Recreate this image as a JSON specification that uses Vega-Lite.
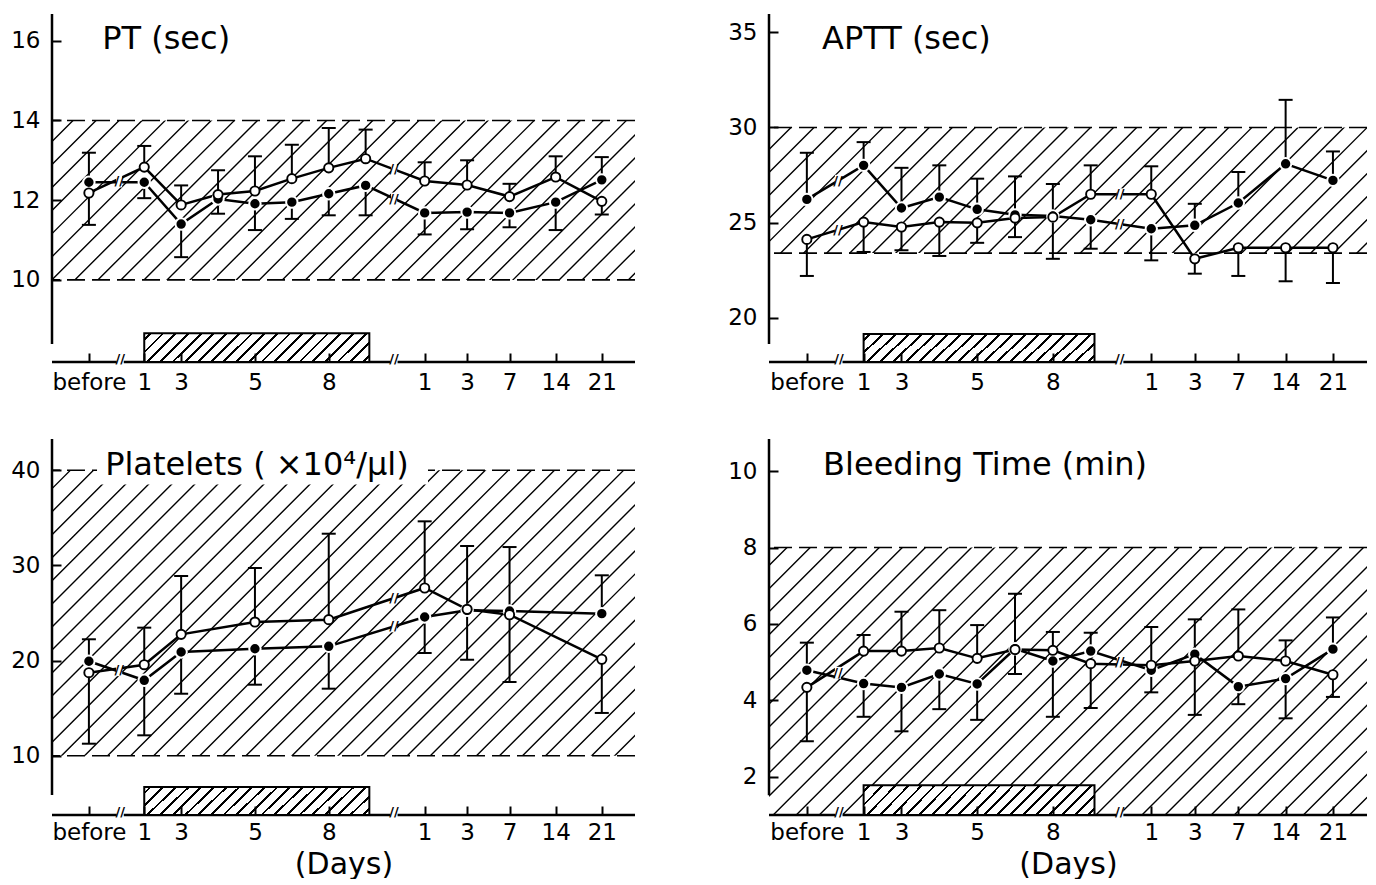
{
"$schema":"https://vega.github.io/schema/vega-lite/v6.json",
"background":"white",
"padding":{"left":10,"top":12,"right":0,"bottom":0},
"params":[{"name":"barHatch","value":{"gradient":"linear","x1":0,"y1":0,"x2":1.1096,"y2":0.1418,"stops":[
{"offset":0,"color":"white"},
{"offset":0.0195,"color":"white"},{"offset":0.0195,"color":"black"},{"offset":0.0305,"color":"black"},{"offset":0.0305,"color":"white"},
{"offset":0.0695,"color":"white"},{"offset":0.0695,"color":"black"},{"offset":0.0805,"color":"black"},{"offset":0.0805,"color":"white"},
{"offset":0.1195,"color":"white"},{"offset":0.1195,"color":"black"},{"offset":0.1305,"color":"black"},{"offset":0.1305,"color":"white"},
{"offset":0.1695,"color":"white"},{"offset":0.1695,"color":"black"},{"offset":0.1805,"color":"black"},{"offset":0.1805,"color":"white"},
{"offset":0.2195,"color":"white"},{"offset":0.2195,"color":"black"},{"offset":0.2305,"color":"black"},{"offset":0.2305,"color":"white"},
{"offset":0.2695,"color":"white"},{"offset":0.2695,"color":"black"},{"offset":0.2805,"color":"black"},{"offset":0.2805,"color":"white"},
{"offset":0.3195,"color":"white"},{"offset":0.3195,"color":"black"},{"offset":0.3305,"color":"black"},{"offset":0.3305,"color":"white"},
{"offset":0.3695,"color":"white"},{"offset":0.3695,"color":"black"},{"offset":0.3805,"color":"black"},{"offset":0.3805,"color":"white"},
{"offset":0.4195,"color":"white"},{"offset":0.4195,"color":"black"},{"offset":0.4305,"color":"black"},{"offset":0.4305,"color":"white"},
{"offset":0.4695,"color":"white"},{"offset":0.4695,"color":"black"},{"offset":0.4805,"color":"black"},{"offset":0.4805,"color":"white"},
{"offset":0.5195,"color":"white"},{"offset":0.5195,"color":"black"},{"offset":0.5305,"color":"black"},{"offset":0.5305,"color":"white"},
{"offset":0.5695,"color":"white"},{"offset":0.5695,"color":"black"},{"offset":0.5805,"color":"black"},{"offset":0.5805,"color":"white"},
{"offset":0.6195,"color":"white"},{"offset":0.6195,"color":"black"},{"offset":0.6305,"color":"black"},{"offset":0.6305,"color":"white"},
{"offset":0.6695,"color":"white"},{"offset":0.6695,"color":"black"},{"offset":0.6805,"color":"black"},{"offset":0.6805,"color":"white"},
{"offset":0.7195,"color":"white"},{"offset":0.7195,"color":"black"},{"offset":0.7305,"color":"black"},{"offset":0.7305,"color":"white"},
{"offset":0.7695,"color":"white"},{"offset":0.7695,"color":"black"},{"offset":0.7805,"color":"black"},{"offset":0.7805,"color":"white"},
{"offset":0.8195,"color":"white"},{"offset":0.8195,"color":"black"},{"offset":0.8305,"color":"black"},{"offset":0.8305,"color":"white"},
{"offset":0.8695,"color":"white"},{"offset":0.8695,"color":"black"},{"offset":0.8805,"color":"black"},{"offset":0.8805,"color":"white"},
{"offset":0.9195,"color":"white"},{"offset":0.9195,"color":"black"},{"offset":0.9305,"color":"black"},{"offset":0.9305,"color":"white"},
{"offset":0.9695,"color":"white"},{"offset":0.9695,"color":"black"},{"offset":0.9805,"color":"black"},{"offset":0.9805,"color":"white"},
{"offset":1,"color":"white"}]}}],
"datasets":{"one":[{}],
"brk":[
{"p":"PT","t":1.82,"v":12.47},{"p":"PT","t":9.27,"v":12.04},{"p":"PT","t":9.27,"v":12.77},
{"p":"APTT","t":1.82,"v":27.2},{"p":"APTT","t":1.82,"v":24.62},{"p":"APTT","t":9.27,"v":24.93},{"p":"APTT","t":9.27,"v":26.49},
{"p":"PLT","t":1.82,"v":19.0},{"p":"PLT","t":9.27,"v":23.6},{"p":"PLT","t":9.27,"v":26.56},
{"p":"BT","t":1.82,"v":4.72},{"p":"BT","t":9.27,"v":5.0}
],
"pts":[
{"p":"PT","s":"A","d":"before","t":1,"m":12.45,"e":13.19},
{"p":"PT","s":"A","d":"1","t":2.5,"m":12.45,"e":12.05},
{"p":"PT","s":"A","d":"3","t":3.5,"m":11.4,"e":10.57},
{"p":"PT","s":"A","d":"4","t":4.5,"m":12.03,"e":11.66},
{"p":"PT","s":"A","d":"5","t":5.5,"m":11.91,"e":11.25},
{"p":"PT","s":"A","d":"6","t":6.5,"m":11.95,"e":11.53},
{"p":"PT","s":"A","d":"8","t":7.5,"m":12.16,"e":11.62},
{"p":"PT","s":"A","d":"9","t":8.5,"m":12.37,"e":11.62},
{"p":"PT","s":"A","d":"post 1","t":10.1,"m":11.68,"e":11.14},
{"p":"PT","s":"A","d":"post 3","t":11.25,"m":11.7,"e":11.27},
{"p":"PT","s":"A","d":"post 7","t":12.4,"m":11.68,"e":11.32},
{"p":"PT","s":"A","d":"post 14","t":13.65,"m":11.95,"e":11.25},
{"p":"PT","s":"A","d":"post 21","t":14.9,"m":12.51,"e":13.08},
{"p":"PT","s":"B","d":"before","t":1,"m":12.18,"e":11.38},
{"p":"PT","s":"B","d":"1","t":2.5,"m":12.83,"e":13.36},
{"p":"PT","s":"B","d":"3","t":3.5,"m":11.88,"e":12.37},
{"p":"PT","s":"B","d":"4","t":4.5,"m":12.14,"e":12.75},
{"p":"PT","s":"B","d":"5","t":5.5,"m":12.23,"e":13.1},
{"p":"PT","s":"B","d":"6","t":6.5,"m":12.54,"e":13.39},
{"p":"PT","s":"B","d":"8","t":7.5,"m":12.81,"e":13.81},
{"p":"PT","s":"B","d":"9","t":8.5,"m":13.04,"e":13.77},
{"p":"PT","s":"B","d":"post 1","t":10.1,"m":12.48,"e":12.95},
{"p":"PT","s":"B","d":"post 3","t":11.25,"m":12.38,"e":13.0},
{"p":"PT","s":"B","d":"post 7","t":12.4,"m":12.09,"e":12.41},
{"p":"PT","s":"B","d":"post 14","t":13.65,"m":12.58,"e":13.1},
{"p":"PT","s":"B","d":"post 21","t":14.9,"m":11.97,"e":11.64},
{"p":"APTT","s":"A","d":"before","t":1,"m":26.22,"e":28.67},
{"p":"APTT","s":"A","d":"1","t":2.5,"m":28.01,"e":29.23},
{"p":"APTT","s":"A","d":"3","t":3.5,"m":25.77,"e":27.88},
{"p":"APTT","s":"A","d":"4","t":4.5,"m":26.34,"e":28.01},
{"p":"APTT","s":"A","d":"5","t":5.5,"m":25.7,"e":27.31},
{"p":"APTT","s":"A","d":"6","t":6.5,"m":25.41,"e":27.43},
{"p":"APTT","s":"A","d":"8","t":7.5,"m":25.35,"e":27.03},
{"p":"APTT","s":"A","d":"9","t":8.5,"m":25.15,"e":23.63},
{"p":"APTT","s":"A","d":"post 1","t":10.1,"m":24.68,"e":23.02},
{"p":"APTT","s":"A","d":"post 3","t":11.25,"m":24.86,"e":25.99},
{"p":"APTT","s":"A","d":"post 7","t":12.4,"m":26.03,"e":27.66},
{"p":"APTT","s":"A","d":"post 14","t":13.65,"m":28.09,"e":31.45},
{"p":"APTT","s":"A","d":"post 21","t":14.9,"m":27.22,"e":28.74},
{"p":"APTT","s":"B","d":"before","t":1,"m":24.12,"e":22.2},
{"p":"APTT","s":"B","d":"1","t":2.5,"m":25.03,"e":23.46},
{"p":"APTT","s":"B","d":"3","t":3.5,"m":24.77,"e":23.55},
{"p":"APTT","s":"B","d":"4","t":4.5,"m":25.03,"e":23.25},
{"p":"APTT","s":"B","d":"5","t":5.5,"m":24.99,"e":23.94},
{"p":"APTT","s":"B","d":"6","t":6.5,"m":25.24,"e":24.24},
{"p":"APTT","s":"B","d":"8","t":7.5,"m":25.29,"e":23.1},
{"p":"APTT","s":"B","d":"9","t":8.5,"m":26.49,"e":28.01},
{"p":"APTT","s":"B","d":"post 1","t":10.1,"m":26.49,"e":27.96},
{"p":"APTT","s":"B","d":"post 3","t":11.25,"m":23.1,"e":22.32},
{"p":"APTT","s":"B","d":"post 7","t":12.4,"m":23.68,"e":22.2},
{"p":"APTT","s":"B","d":"post 14","t":13.65,"m":23.68,"e":21.92},
{"p":"APTT","s":"B","d":"post 21","t":14.9,"m":23.68,"e":21.83},
{"p":"PLT","s":"A","d":"before","t":1,"m":19.93,"e":22.24},
{"p":"PLT","s":"A","d":"1","t":2.5,"m":17.93,"e":12.15},
{"p":"PLT","s":"A","d":"3","t":3.5,"m":20.9,"e":16.52},
{"p":"PLT","s":"A","d":"5","t":5.5,"m":21.25,"e":17.47},
{"p":"PLT","s":"A","d":"8","t":7.5,"m":21.5,"e":17.05},
{"p":"PLT","s":"A","d":"post 1","t":10.1,"m":24.58,"e":20.8},
{"p":"PLT","s":"A","d":"post 3","t":11.25,"m":25.28,"e":20.09},
{"p":"PLT","s":"A","d":"post 7","t":12.4,"m":25.21,"e":31.93},
{"p":"PLT","s":"A","d":"post 21","t":14.9,"m":24.93,"e":28.96},
{"p":"PLT","s":"B","d":"before","t":1,"m":18.73,"e":11.27},
{"p":"PLT","s":"B","d":"1","t":2.5,"m":19.57,"e":23.46},
{"p":"PLT","s":"B","d":"3","t":3.5,"m":22.76,"e":28.89},
{"p":"PLT","s":"B","d":"5","t":5.5,"m":24.05,"e":29.73},
{"p":"PLT","s":"B","d":"8","t":7.5,"m":24.3,"e":33.33},
{"p":"PLT","s":"B","d":"post 1","t":10.1,"m":27.63,"e":34.63},
{"p":"PLT","s":"B","d":"post 3","t":11.25,"m":25.39,"e":32.04},
{"p":"PLT","s":"B","d":"post 7","t":12.4,"m":24.82,"e":17.75},
{"p":"PLT","s":"B","d":"post 21","t":14.9,"m":20.14,"e":14.5},
{"p":"BT","s":"A","d":"before","t":1,"m":4.79,"e":5.51},
{"p":"BT","s":"A","d":"1","t":2.5,"m":4.44,"e":3.57},
{"p":"BT","s":"A","d":"3","t":3.5,"m":4.34,"e":3.19},
{"p":"BT","s":"A","d":"4","t":4.5,"m":4.69,"e":3.77},
{"p":"BT","s":"A","d":"5","t":5.5,"m":4.43,"e":3.49},
{"p":"BT","s":"A","d":"6","t":6.5,"m":5.35,"e":6.79},
{"p":"BT","s":"A","d":"8","t":7.5,"m":5.03,"e":3.57},
{"p":"BT","s":"A","d":"9","t":8.5,"m":5.29,"e":5.77},
{"p":"BT","s":"A","d":"post 1","t":10.1,"m":4.79,"e":4.21},
{"p":"BT","s":"A","d":"post 3","t":11.25,"m":5.21,"e":6.12},
{"p":"BT","s":"A","d":"post 7","t":12.4,"m":4.36,"e":3.9},
{"p":"BT","s":"A","d":"post 14","t":13.65,"m":4.57,"e":3.53},
{"p":"BT","s":"A","d":"post 21","t":14.9,"m":5.34,"e":6.17},
{"p":"BT","s":"B","d":"before","t":1,"m":4.34,"e":2.93},
{"p":"BT","s":"B","d":"1","t":2.5,"m":5.29,"e":5.71},
{"p":"BT","s":"B","d":"3","t":3.5,"m":5.29,"e":6.32},
{"p":"BT","s":"B","d":"4","t":4.5,"m":5.37,"e":6.36},
{"p":"BT","s":"B","d":"5","t":5.5,"m":5.1,"e":5.97},
{"p":"BT","s":"B","d":"6","t":6.5,"m":5.33,"e":4.69},
{"p":"BT","s":"B","d":"8","t":7.5,"m":5.31,"e":5.79},
{"p":"BT","s":"B","d":"9","t":8.5,"m":4.96,"e":3.8},
{"p":"BT","s":"B","d":"post 1","t":10.1,"m":4.92,"e":5.92},
{"p":"BT","s":"B","d":"post 3","t":11.25,"m":5.03,"e":3.62},
{"p":"BT","s":"B","d":"post 7","t":12.4,"m":5.16,"e":6.38},
{"p":"BT","s":"B","d":"post 14","t":13.65,"m":5.03,"e":5.57},
{"p":"BT","s":"B","d":"post 21","t":14.9,"m":4.67,"e":4.09}
]},
"config":{
"view":{"stroke":null},
"axis":{"grid":false,"labelFont":"DejaVu Sans","labelColor":"black","titleFont":"DejaVu Sans","titleColor":"black","titleFontWeight":"normal"}
},
"columns":2,"spacing":{"row":77,"column":134},"bounds":"flush",
"concat":[
{"width":583,"height":348,"layer":[
{"data":{"name":"one"},"mark":{"type":"rule","clip":true,"strokeWidth":1500,"strokeDash":[1.4,14.9],"strokeCap":"butt","color":"black"},
 "encoding":{"x":{"datum":-2.94,"type":"quantitative","scale":{"domain":[0,15.8],"nice":false,"zero":false},"axis":{"title":null,"domain":false,"ticks":true,"tickSize":-9,"tickWidth":2,"tickColor":"black","labelFontSize":23,"labelPadding":18,"labelOverlap":false,"labelFlush":false,"labelBound":false,"zindex":1,"values":[1,2.5,3.5,5.5,7.5,10.1,11.25,12.4,13.65,14.9],"labelExpr":"datum.value==1?'before':(datum.value==2.5||datum.value==10.1)?'1':(datum.value==3.5||datum.value==11.25)?'3':datum.value==5.5?'5':datum.value==7.5?'8':datum.value==12.4?'7':datum.value==13.65?'14':'21'"}},"x2":{"datum":18.74},
 "y":{"datum":22.34,"type":"quantitative","scale":{"domain":[7.94,16.67],"nice":false,"zero":false},"axis":{"title":null,"domain":false,"ticks":true,"tickSize":-9,"tickWidth":2,"tickColor":"black","labelFontSize":23,"labelPadding":21,"zindex":1,"values":[10,12,14,16]}},"y2":{"datum":2.26}}},
{"data":{"name":"one"},"mark":{"type":"rect","color":"white"},"encoding":{"x":{"datum":0,"type":"quantitative"},"x2":{"datum":15.8},"y":{"datum":14,"type":"quantitative"},"y2":{"datum":16.67}}},
{"data":{"name":"one"},"mark":{"type":"rect","color":"white"},"encoding":{"x":{"datum":0,"type":"quantitative"},"x2":{"datum":15.8},"y":{"datum":7.94,"type":"quantitative"},"y2":{"datum":10}}},
{"data":{"values":[{"ref":14},{"ref":10}]},"mark":{"type":"rule","strokeDash":[18,7],"strokeWidth":1.6,"color":"black"},"encoding":{"y":{"field":"ref","type":"quantitative"}}},
{"data":{"name":"one"},"mark":{"type":"rule","strokeWidth":2.5,"color":"black"},"encoding":{"y":{"datum":7.94,"type":"quantitative"}}},
{"data":{"name":"one"},"mark":{"type":"rule","strokeWidth":2.5,"color":"black"},"encoding":{"x":{"datum":0,"type":"quantitative"},"y":{"datum":8.39,"type":"quantitative"},"y2":{"datum":16.67}}},
{"data":{"name":"one"},"mark":{"type":"rect","fill":{"expr":"barHatch"},"stroke":"black","strokeWidth":2},"encoding":{"x":{"datum":2.5,"type":"quantitative"},"x2":{"datum":8.6},"y":{"datum":7.94,"type":"quantitative"},"y2":{"datum":8.66}}},
{"data":{"values":[{"b":1.85},{"b":9.27}]},"mark":{"type":"tick","orient":"vertical","color":"white","size":12,"thickness":7,"opacity":1},"encoding":{"x":{"field":"b","type":"quantitative"},"y":{"datum":7.94,"type":"quantitative"}}},
{"data":{"values":[{"b":1.85},{"b":9.27}]},"mark":{"type":"text","text":"//","font":"DejaVu Sans","fontSize":13,"fontWeight":"bold","color":"black","baseline":"middle","align":"center","dy":-3},"encoding":{"x":{"field":"b","type":"quantitative"},"y":{"datum":7.94,"type":"quantitative"}}},
{"data":{"name":"pts"},"transform":[{"filter":"datum.p=='PT'"}],"mark":{"type":"line","color":"black","strokeWidth":2.5},"encoding":{"x":{"field":"t","type":"quantitative"},"y":{"field":"m","type":"quantitative"},"detail":{"field":"s"}}},
{"data":{"name":"brk"},"transform":[{"filter":"datum.p=='PT'"}],"mark":{"type":"tick","orient":"vertical","color":"white","size":12,"thickness":6,"opacity":1},"encoding":{"x":{"field":"t","type":"quantitative"},"y":{"field":"v","type":"quantitative"}}},
{"data":{"name":"brk"},"transform":[{"filter":"datum.p=='PT'"}],"mark":{"type":"text","text":"//","font":"DejaVu Sans","fontSize":13,"fontWeight":"bold","color":"black","baseline":"middle","align":"center"},"encoding":{"x":{"field":"t","type":"quantitative"},"y":{"field":"v","type":"quantitative"}}},
{"data":{"name":"pts"},"transform":[{"filter":"datum.p=='PT'"}],"mark":{"type":"rule","color":"black","strokeWidth":2},"encoding":{"x":{"field":"t","type":"quantitative"},"y":{"field":"m","type":"quantitative"},"y2":{"field":"e"}}},
{"data":{"name":"pts"},"transform":[{"filter":"datum.p=='PT'"}],"mark":{"type":"tick","orient":"horizontal","color":"black","size":14,"thickness":2,"opacity":1},"encoding":{"x":{"field":"t","type":"quantitative"},"y":{"field":"e","type":"quantitative"}}},
{"data":{"name":"pts"},"transform":[{"filter":"datum.p=='PT' && datum.s=='A'"}],"mark":{"type":"point","shape":"circle","filled":true,"fill":"black","stroke":"white","strokeWidth":2,"size":130,"opacity":1},"encoding":{"x":{"field":"t","type":"quantitative"},"y":{"field":"m","type":"quantitative"}}},
{"data":{"name":"pts"},"transform":[{"filter":"datum.p=='PT' && datum.s=='B'"}],"mark":{"type":"point","shape":"circle","filled":true,"fill":"white","stroke":"black","strokeWidth":1.9,"size":85,"opacity":1},"encoding":{"x":{"field":"t","type":"quantitative"},"y":{"field":"m","type":"quantitative"}}},
{"data":{"name":"one"},"mark":{"type":"text","text":"PT (sec)","font":"DejaVu Sans","fontSize":32,"align":"left","baseline":"alphabetic","color":"black"},"encoding":{"x":{"datum":1.36,"type":"quantitative"},"y":{"datum":15.79,"type":"quantitative"}}}
]},
{"width":598,"height":348,"layer":[
{"data":{"name":"one"},"mark":{"type":"rule","clip":true,"strokeWidth":1500,"strokeDash":[1.4,14.9],"strokeCap":"butt","color":"black"},
 "encoding":{"x":{"datum":-2.67,"type":"quantitative","scale":{"domain":[0,15.8],"nice":false,"zero":false},"axis":{"title":null,"domain":false,"ticks":true,"tickSize":-9,"tickWidth":2,"tickColor":"black","labelFontSize":23,"labelPadding":18,"labelOverlap":false,"labelFlush":false,"labelBound":false,"zindex":1,"values":[1,2.5,3.5,5.5,7.5,10.1,11.25,12.4,13.65,14.9],"labelExpr":"datum.value==1?'before':(datum.value==2.5||datum.value==10.1)?'1':(datum.value==3.5||datum.value==11.25)?'3':datum.value==5.5?'5':datum.value==7.5?'8':datum.value==12.4?'7':datum.value==13.65?'14':'21'"}},"x2":{"datum":18.47},
 "y":{"datum":47.81,"type":"quantitative","scale":{"domain":[17.68,35.96],"nice":false,"zero":false},"axis":{"title":null,"domain":false,"ticks":true,"tickSize":-9,"tickWidth":2,"tickColor":"black","labelFontSize":23,"labelPadding":21,"zindex":1,"values":[20,25,30,35]}},"y2":{"datum":5.79}}},
{"data":{"name":"one"},"mark":{"type":"rect","color":"white"},"encoding":{"x":{"datum":0,"type":"quantitative"},"x2":{"datum":15.8},"y":{"datum":30,"type":"quantitative"},"y2":{"datum":35.96}}},
{"data":{"name":"one"},"mark":{"type":"rect","color":"white"},"encoding":{"x":{"datum":0,"type":"quantitative"},"x2":{"datum":15.8},"y":{"datum":17.68,"type":"quantitative"},"y2":{"datum":23.4}}},
{"data":{"values":[{"ref":30},{"ref":23.4}]},"mark":{"type":"rule","strokeDash":[18,7],"strokeWidth":1.6,"color":"black"},"encoding":{"y":{"field":"ref","type":"quantitative"}}},
{"data":{"name":"one"},"mark":{"type":"rule","strokeWidth":2.5,"color":"black"},"encoding":{"y":{"datum":17.68,"type":"quantitative"}}},
{"data":{"name":"one"},"mark":{"type":"rule","strokeWidth":2.5,"color":"black"},"encoding":{"x":{"datum":0,"type":"quantitative"},"y":{"datum":18.62,"type":"quantitative"},"y2":{"datum":35.96}}},
{"data":{"name":"one"},"mark":{"type":"rect","fill":{"expr":"barHatch"},"stroke":"black","strokeWidth":2},"encoding":{"x":{"datum":2.5,"type":"quantitative"},"x2":{"datum":8.6},"y":{"datum":17.68,"type":"quantitative"},"y2":{"datum":19.15}}},
{"data":{"values":[{"b":1.85},{"b":9.27}]},"mark":{"type":"tick","orient":"vertical","color":"white","size":12,"thickness":7,"opacity":1},"encoding":{"x":{"field":"b","type":"quantitative"},"y":{"datum":17.68,"type":"quantitative"}}},
{"data":{"values":[{"b":1.85},{"b":9.27}]},"mark":{"type":"text","text":"//","font":"DejaVu Sans","fontSize":13,"fontWeight":"bold","color":"black","baseline":"middle","align":"center","dy":-3},"encoding":{"x":{"field":"b","type":"quantitative"},"y":{"datum":17.68,"type":"quantitative"}}},
{"data":{"name":"pts"},"transform":[{"filter":"datum.p=='APTT'"}],"mark":{"type":"line","color":"black","strokeWidth":2.5},"encoding":{"x":{"field":"t","type":"quantitative"},"y":{"field":"m","type":"quantitative"},"detail":{"field":"s"}}},
{"data":{"name":"brk"},"transform":[{"filter":"datum.p=='APTT'"}],"mark":{"type":"tick","orient":"vertical","color":"white","size":12,"thickness":6,"opacity":1},"encoding":{"x":{"field":"t","type":"quantitative"},"y":{"field":"v","type":"quantitative"}}},
{"data":{"name":"brk"},"transform":[{"filter":"datum.p=='APTT'"}],"mark":{"type":"text","text":"//","font":"DejaVu Sans","fontSize":13,"fontWeight":"bold","color":"black","baseline":"middle","align":"center"},"encoding":{"x":{"field":"t","type":"quantitative"},"y":{"field":"v","type":"quantitative"}}},
{"data":{"name":"pts"},"transform":[{"filter":"datum.p=='APTT'"}],"mark":{"type":"rule","color":"black","strokeWidth":2},"encoding":{"x":{"field":"t","type":"quantitative"},"y":{"field":"m","type":"quantitative"},"y2":{"field":"e"}}},
{"data":{"name":"pts"},"transform":[{"filter":"datum.p=='APTT'"}],"mark":{"type":"tick","orient":"horizontal","color":"black","size":14,"thickness":2,"opacity":1},"encoding":{"x":{"field":"t","type":"quantitative"},"y":{"field":"e","type":"quantitative"}}},
{"data":{"name":"pts"},"transform":[{"filter":"datum.p=='APTT' && datum.s=='A'"}],"mark":{"type":"point","shape":"circle","filled":true,"fill":"black","stroke":"white","strokeWidth":2,"size":130,"opacity":1},"encoding":{"x":{"field":"t","type":"quantitative"},"y":{"field":"m","type":"quantitative"}}},
{"data":{"name":"pts"},"transform":[{"filter":"datum.p=='APTT' && datum.s=='B'"}],"mark":{"type":"point","shape":"circle","filled":true,"fill":"white","stroke":"black","strokeWidth":1.9,"size":85,"opacity":1},"encoding":{"x":{"field":"t","type":"quantitative"},"y":{"field":"m","type":"quantitative"}}},
{"data":{"name":"one"},"mark":{"type":"text","text":"APTT (sec)","font":"DejaVu Sans","fontSize":32,"align":"left","baseline":"alphabetic","color":"black"},"encoding":{"x":{"datum":1.4,"type":"quantitative"},"y":{"datum":34.12,"type":"quantitative"}}}
]},
{"width":583,"height":376,"layer":[
{"data":{"name":"one"},"mark":{"type":"rule","clip":true,"strokeWidth":1500,"strokeDash":[1.4,14.9],"strokeCap":"butt","color":"black"},
 "encoding":{"x":{"datum":-2.94,"type":"quantitative","scale":{"domain":[0,15.8],"nice":false,"zero":false},"axis":{"title":"(Days)","titleFontSize":30,"titlePadding":5,"domain":false,"ticks":true,"tickSize":-9,"tickWidth":2,"tickColor":"black","labelFontSize":23,"labelPadding":15,"labelOverlap":false,"labelFlush":false,"labelBound":false,"zindex":1,"values":[1,2.5,3.5,5.5,7.5,10.1,11.25,12.4,13.65,14.9],"labelExpr":"datum.value==1?'before':(datum.value==2.5||datum.value==10.1)?'1':(datum.value==3.5||datum.value==11.25)?'3':datum.value==5.5?'5':datum.value==7.5?'8':datum.value==12.4?'7':datum.value==13.65?'14':'21'"}},"x2":{"datum":18.74},
 "y":{"datum":65.52,"type":"quantitative","scale":{"domain":[3.78,43.28],"nice":false,"zero":false},"axis":{"title":null,"domain":false,"ticks":true,"tickSize":-9,"tickWidth":2,"tickColor":"black","labelFontSize":23,"labelPadding":21,"zindex":1,"values":[10,20,30,40]}},"y2":{"datum":-18.52}}},
{"data":{"name":"one"},"mark":{"type":"rect","color":"white"},"encoding":{"x":{"datum":0,"type":"quantitative"},"x2":{"datum":15.8},"y":{"datum":40,"type":"quantitative"},"y2":{"datum":43.28}}},
{"data":{"name":"one"},"mark":{"type":"rect","color":"white"},"encoding":{"x":{"datum":0,"type":"quantitative"},"x2":{"datum":15.8},"y":{"datum":3.78,"type":"quantitative"},"y2":{"datum":10}}},
{"data":{"values":[{"ref":40},{"ref":10}]},"mark":{"type":"rule","strokeDash":[18,7],"strokeWidth":1.6,"color":"black"},"encoding":{"y":{"field":"ref","type":"quantitative"}}},
{"data":{"name":"one"},"mark":{"type":"rect","color":"white"},"encoding":{"x":{"datum":1.22,"type":"quantitative"},"x2":{"datum":10.19},"y":{"datum":38.5,"type":"quantitative"},"y2":{"datum":41.6}}},
{"data":{"name":"one"},"mark":{"type":"rule","strokeWidth":2.5,"color":"black"},"encoding":{"y":{"datum":3.78,"type":"quantitative"}}},
{"data":{"name":"one"},"mark":{"type":"rule","strokeWidth":2.5,"color":"black"},"encoding":{"x":{"datum":0,"type":"quantitative"},"y":{"datum":5.88,"type":"quantitative"},"y2":{"datum":43.28}}},
{"data":{"name":"one"},"mark":{"type":"rect","fill":{"expr":"barHatch"},"stroke":"black","strokeWidth":2},"encoding":{"x":{"datum":2.5,"type":"quantitative"},"x2":{"datum":8.6},"y":{"datum":3.78,"type":"quantitative"},"y2":{"datum":6.72}}},
{"data":{"values":[{"b":1.85},{"b":9.27}]},"mark":{"type":"tick","orient":"vertical","color":"white","size":12,"thickness":7,"opacity":1},"encoding":{"x":{"field":"b","type":"quantitative"},"y":{"datum":3.78,"type":"quantitative"}}},
{"data":{"values":[{"b":1.85},{"b":9.27}]},"mark":{"type":"text","text":"//","font":"DejaVu Sans","fontSize":13,"fontWeight":"bold","color":"black","baseline":"middle","align":"center","dy":-3},"encoding":{"x":{"field":"b","type":"quantitative"},"y":{"datum":3.78,"type":"quantitative"}}},
{"data":{"name":"pts"},"transform":[{"filter":"datum.p=='PLT'"}],"mark":{"type":"line","color":"black","strokeWidth":2.5},"encoding":{"x":{"field":"t","type":"quantitative"},"y":{"field":"m","type":"quantitative"},"detail":{"field":"s"}}},
{"data":{"name":"brk"},"transform":[{"filter":"datum.p=='PLT'"}],"mark":{"type":"tick","orient":"vertical","color":"white","size":12,"thickness":6,"opacity":1},"encoding":{"x":{"field":"t","type":"quantitative"},"y":{"field":"v","type":"quantitative"}}},
{"data":{"name":"brk"},"transform":[{"filter":"datum.p=='PLT'"}],"mark":{"type":"text","text":"//","font":"DejaVu Sans","fontSize":13,"fontWeight":"bold","color":"black","baseline":"middle","align":"center"},"encoding":{"x":{"field":"t","type":"quantitative"},"y":{"field":"v","type":"quantitative"}}},
{"data":{"name":"pts"},"transform":[{"filter":"datum.p=='PLT'"}],"mark":{"type":"rule","color":"black","strokeWidth":2},"encoding":{"x":{"field":"t","type":"quantitative"},"y":{"field":"m","type":"quantitative"},"y2":{"field":"e"}}},
{"data":{"name":"pts"},"transform":[{"filter":"datum.p=='PLT'"}],"mark":{"type":"tick","orient":"horizontal","color":"black","size":14,"thickness":2,"opacity":1},"encoding":{"x":{"field":"t","type":"quantitative"},"y":{"field":"e","type":"quantitative"}}},
{"data":{"name":"pts"},"transform":[{"filter":"datum.p=='PLT' && datum.s=='A'"}],"mark":{"type":"point","shape":"circle","filled":true,"fill":"black","stroke":"white","strokeWidth":2,"size":130,"opacity":1},"encoding":{"x":{"field":"t","type":"quantitative"},"y":{"field":"m","type":"quantitative"}}},
{"data":{"name":"pts"},"transform":[{"filter":"datum.p=='PLT' && datum.s=='B'"}],"mark":{"type":"point","shape":"circle","filled":true,"fill":"white","stroke":"black","strokeWidth":1.9,"size":85,"opacity":1},"encoding":{"x":{"field":"t","type":"quantitative"},"y":{"field":"m","type":"quantitative"}}},
{"data":{"name":"one"},"mark":{"type":"text","text":"Platelets ( ×10⁴/μl)","font":"DejaVu Sans","fontSize":32,"align":"left","baseline":"alphabetic","color":"black"},"encoding":{"x":{"datum":1.44,"type":"quantitative"},"y":{"datum":39.5,"type":"quantitative"}}}
]},
{"width":598,"height":376,"layer":[
{"data":{"name":"one"},"mark":{"type":"rule","clip":true,"strokeWidth":1500,"strokeDash":[1.4,14.9],"strokeCap":"butt","color":"black"},
 "encoding":{"x":{"datum":-2.67,"type":"quantitative","scale":{"domain":[0,15.8],"nice":false,"zero":false},"axis":{"title":"(Days)","titleFontSize":30,"titlePadding":5,"domain":false,"ticks":true,"tickSize":-9,"tickWidth":2,"tickColor":"black","labelFontSize":23,"labelPadding":15,"labelOverlap":false,"labelFlush":false,"labelBound":false,"zindex":1,"values":[1,2.5,3.5,5.5,7.5,10.1,11.25,12.4,13.65,14.9],"labelExpr":"datum.value==1?'before':(datum.value==2.5||datum.value==10.1)?'1':(datum.value==3.5||datum.value==11.25)?'3':datum.value==5.5?'5':datum.value==7.5?'8':datum.value==12.4?'7':datum.value==13.65?'14':'21'"}},"x2":{"datum":18.47},
 "y":{"datum":16.37,"type":"quantitative","scale":{"domain":[1.0,10.84],"nice":false,"zero":false},"axis":{"title":null,"domain":false,"ticks":true,"tickSize":-9,"tickWidth":2,"tickColor":"black","labelFontSize":23,"labelPadding":21,"zindex":1,"values":[2,4,6,8,10]}},"y2":{"datum":-4.57}}},
{"data":{"name":"one"},"mark":{"type":"rect","color":"white"},"encoding":{"x":{"datum":0,"type":"quantitative"},"x2":{"datum":15.8},"y":{"datum":8,"type":"quantitative"},"y2":{"datum":10.84}}},
{"data":{"values":[{"ref":8}]},"mark":{"type":"rule","strokeDash":[18,7],"strokeWidth":1.6,"color":"black"},"encoding":{"y":{"field":"ref","type":"quantitative"}}},
{"data":{"name":"one"},"mark":{"type":"rule","strokeWidth":2.5,"color":"black"},"encoding":{"y":{"datum":1.0,"type":"quantitative"}}},
{"data":{"name":"one"},"mark":{"type":"rule","strokeWidth":2.5,"color":"black"},"encoding":{"x":{"datum":0,"type":"quantitative"},"y":{"datum":1.52,"type":"quantitative"},"y2":{"datum":10.84}}},
{"data":{"name":"one"},"mark":{"type":"rect","fill":{"expr":"barHatch"},"stroke":"black","strokeWidth":2},"encoding":{"x":{"datum":2.5,"type":"quantitative"},"x2":{"datum":8.6},"y":{"datum":1.0,"type":"quantitative"},"y2":{"datum":1.78}}},
{"data":{"values":[{"b":1.85},{"b":9.27}]},"mark":{"type":"tick","orient":"vertical","color":"white","size":12,"thickness":7,"opacity":1},"encoding":{"x":{"field":"b","type":"quantitative"},"y":{"datum":1.0,"type":"quantitative"}}},
{"data":{"values":[{"b":1.85},{"b":9.27}]},"mark":{"type":"text","text":"//","font":"DejaVu Sans","fontSize":13,"fontWeight":"bold","color":"black","baseline":"middle","align":"center","dy":-3},"encoding":{"x":{"field":"b","type":"quantitative"},"y":{"datum":1.0,"type":"quantitative"}}},
{"data":{"name":"pts"},"transform":[{"filter":"datum.p=='BT'"}],"mark":{"type":"line","color":"black","strokeWidth":2.5},"encoding":{"x":{"field":"t","type":"quantitative"},"y":{"field":"m","type":"quantitative"},"detail":{"field":"s"}}},
{"data":{"name":"brk"},"transform":[{"filter":"datum.p=='BT'"}],"mark":{"type":"tick","orient":"vertical","color":"white","size":12,"thickness":6,"opacity":1},"encoding":{"x":{"field":"t","type":"quantitative"},"y":{"field":"v","type":"quantitative"}}},
{"data":{"name":"brk"},"transform":[{"filter":"datum.p=='BT'"}],"mark":{"type":"text","text":"//","font":"DejaVu Sans","fontSize":13,"fontWeight":"bold","color":"black","baseline":"middle","align":"center"},"encoding":{"x":{"field":"t","type":"quantitative"},"y":{"field":"v","type":"quantitative"}}},
{"data":{"name":"pts"},"transform":[{"filter":"datum.p=='BT'"}],"mark":{"type":"rule","color":"black","strokeWidth":2},"encoding":{"x":{"field":"t","type":"quantitative"},"y":{"field":"m","type":"quantitative"},"y2":{"field":"e"}}},
{"data":{"name":"pts"},"transform":[{"filter":"datum.p=='BT'"}],"mark":{"type":"tick","orient":"horizontal","color":"black","size":14,"thickness":2,"opacity":1},"encoding":{"x":{"field":"t","type":"quantitative"},"y":{"field":"e","type":"quantitative"}}},
{"data":{"name":"pts"},"transform":[{"filter":"datum.p=='BT' && datum.s=='A'"}],"mark":{"type":"point","shape":"circle","filled":true,"fill":"black","stroke":"white","strokeWidth":2,"size":130,"opacity":1},"encoding":{"x":{"field":"t","type":"quantitative"},"y":{"field":"m","type":"quantitative"}}},
{"data":{"name":"pts"},"transform":[{"filter":"datum.p=='BT' && datum.s=='B'"}],"mark":{"type":"point","shape":"circle","filled":true,"fill":"white","stroke":"black","strokeWidth":1.9,"size":85,"opacity":1},"encoding":{"x":{"field":"t","type":"quantitative"},"y":{"field":"m","type":"quantitative"}}},
{"data":{"name":"one"},"mark":{"type":"text","text":"Bleeding Time (min)","font":"DejaVu Sans","fontSize":32,"align":"left","baseline":"alphabetic","color":"black"},"encoding":{"x":{"datum":1.43,"type":"quantitative"},"y":{"datum":9.9,"type":"quantitative"}}}
]}
]
}
